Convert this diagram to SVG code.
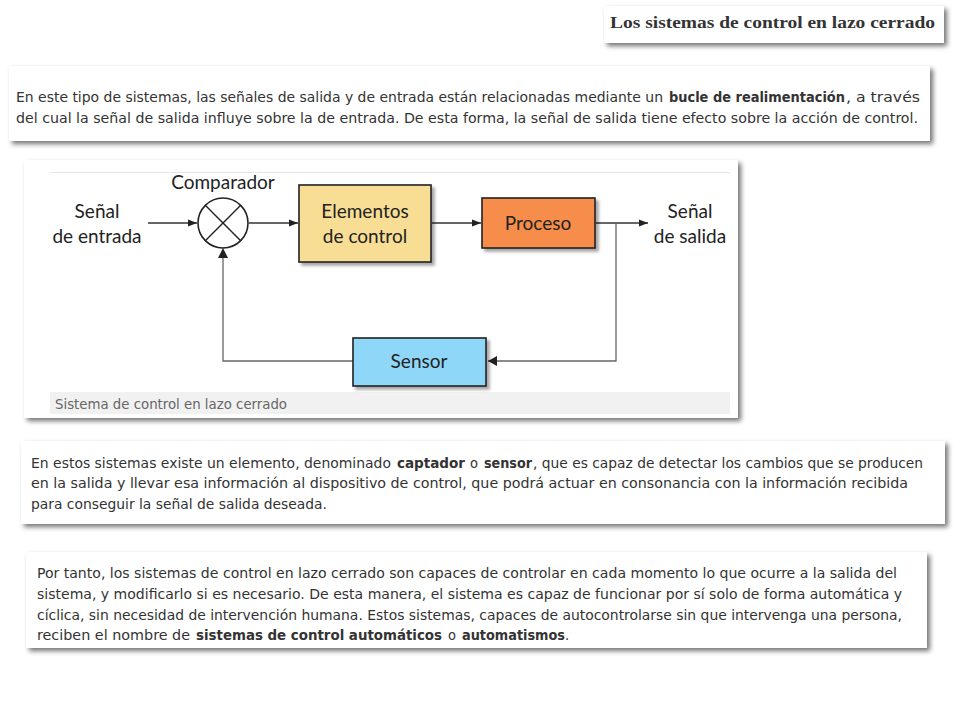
<svg xmlns="http://www.w3.org/2000/svg" width="960" height="720" viewBox="0 0 960 720">
<defs>
<filter id="sh" x="-5%" y="-20%" width="112%" height="150%">
<feDropShadow dx="3" dy="3" stdDeviation="2.5" flood-color="#000" flood-opacity="0.55"/>
</filter>
<filter id="bs" x="-10%" y="-10%" width="130%" height="130%">
<feDropShadow dx="3" dy="3" stdDeviation="1.5" flood-color="#000" flood-opacity="0.35"/>
</filter>
<marker id="ah" viewBox="0 0 10 10" refX="10" refY="5" markerWidth="9" markerHeight="9" markerUnits="userSpaceOnUse" orient="auto">
<path d="M0,1 L10,5 L0,9 Z" fill="#222"/>
</marker>
</defs>
<style>
.card{fill:#fff;filter:url(#sh)}
.p{font-family:"DejaVu Sans Condensed","DejaVu Sans","Liberation Sans",sans-serif;font-size:14.5px;fill:#333}
.b{font-weight:bold}
.d{font-family:Lato,"Open Sans",sans-serif;font-size:19px;fill:#222;text-anchor:middle}
.ln{fill:none;stroke:#333;stroke-width:1.6}
.fb{fill:none;stroke:#666;stroke-width:1.3}
.box{stroke:#222;stroke-width:1.6;filter:url(#bs)}
</style>
<rect width="960" height="720" fill="#fff"/>

<g id="title">
<rect class="card" x="604" y="6" width="340" height="37"/>
<text x="610" y="28" font-family="'Liberation Serif','DejaVu Serif',serif" font-weight="bold" font-size="16.5" fill="#333" textLength="325" lengthAdjust="spacingAndGlyphs">Los sistemas de control en lazo cerrado</text>
</g>

<g id="para1">
<rect class="card" x="9" y="66" width="921" height="75"/>
<text class="p" x="16" y="102" textLength="647" lengthAdjust="spacingAndGlyphs">En este tipo de sistemas, las señales de salida y de entrada están relacionadas mediante un</text>
<text class="p b" x="669" y="102" textLength="176" lengthAdjust="spacingAndGlyphs">bucle de realimentación</text>
<text class="p" x="846" y="102" textLength="74" lengthAdjust="spacingAndGlyphs">, a través</text>
<text class="p" x="16" y="123" textLength="902" lengthAdjust="spacingAndGlyphs">del cual la señal de salida influye sobre la de entrada. De esta forma, la señal de salida tiene efecto sobre la acción de control.</text>
</g>

<g id="figure">
<rect class="card" x="24" y="160" width="714" height="258"/>
<line x1="50" y1="172.5" x2="730" y2="172.5" stroke="#e6e6e6" stroke-width="1"/>
<rect x="50" y="392" width="680" height="22" fill="#f1f1f1"/>
<text x="55" y="409" font-family="'DejaVu Sans Condensed','Liberation Sans Narrow',sans-serif" font-size="13.5" fill="#666" textLength="232" lengthAdjust="spacingAndGlyphs">Sistema de control en lazo cerrado</text>
</g>

<g id="connectors">
<line class="ln" x1="148" y1="223" x2="197" y2="223" marker-end="url(#ah)"/>
<line class="ln" x1="249" y1="223" x2="298" y2="223" marker-end="url(#ah)"/>
<line class="ln" x1="432" y1="223" x2="481" y2="223" marker-end="url(#ah)"/>
<line class="ln" x1="596" y1="223" x2="648" y2="223" marker-end="url(#ah)"/>
<polyline class="fb" points="616,223 616,361 488,361"/>
<path d="M497,356 L488,361 L497,366 Z" fill="#222"/>
<polyline class="fb" points="353,361 223,361 223,257"/>
<path d="M218,258 L223,248 L228,258 Z" fill="#222"/>
</g>

<g id="input">
<text class="d" x="97" y="218">Señal</text>
<text class="d" x="97" y="243">de entrada</text>
</g>

<g id="comparador">
<text class="d" x="223" y="189">Comparador</text>
<circle cx="223" cy="223" r="25" fill="#fff" stroke="#222" stroke-width="1.6"/>
<line x1="205.3" y1="205.3" x2="240.7" y2="240.7" stroke="#222" stroke-width="1.4"/>
<line x1="240.7" y1="205.3" x2="205.3" y2="240.7" stroke="#222" stroke-width="1.4"/>
</g>

<g id="elementos">
<rect class="box" x="299" y="185" width="132" height="77" fill="#f8de94"/>
<text class="d" x="365" y="218">Elementos</text>
<text class="d" x="365" y="243">de control</text>
</g>

<g id="proceso">
<rect class="box" x="482" y="198" width="113" height="50" fill="#f68d4c"/>
<text class="d" x="538" y="230">Proceso</text>
</g>

<g id="output">
<text class="d" x="690" y="218">Señal</text>
<text class="d" x="690" y="243">de salida</text>
</g>

<g id="sensor">
<rect class="box" x="353" y="338" width="133" height="48" fill="#8ed7f8"/>
<text class="d" x="419" y="368">Sensor</text>
</g>

<g id="para2">
<rect class="card" x="21" y="441" width="924" height="83"/>
<text class="p" x="31" y="468" textLength="360" lengthAdjust="spacingAndGlyphs">En estos sistemas existe un elemento, denominado</text>
<text class="p b" x="397" y="468" textLength="68" lengthAdjust="spacingAndGlyphs">captador</text>
<text class="p" x="470" y="468">o</text>
<text class="p b" x="484" y="468" textLength="48" lengthAdjust="spacingAndGlyphs">sensor</text>
<text class="p" x="533" y="468" textLength="390" lengthAdjust="spacingAndGlyphs">, que es capaz de detectar los cambios que se producen</text>
<text class="p" x="31" y="488" textLength="877" lengthAdjust="spacingAndGlyphs">en la salida y llevar esa información al dispositivo de control, que podrá actuar en consonancia con la información recibida</text>
<text class="p" x="31" y="509" textLength="296" lengthAdjust="spacingAndGlyphs">para conseguir la señal de salida deseada.</text>
</g>

<g id="para3">
<rect class="card" x="26" y="552" width="901" height="96"/>
<text class="p" x="37" y="578" textLength="860" lengthAdjust="spacingAndGlyphs">Por tanto, los sistemas de control en lazo cerrado son capaces de controlar en cada momento lo que ocurre a la salida del</text>
<text class="p" x="37" y="599" textLength="865" lengthAdjust="spacingAndGlyphs">sistema, y modificarlo si es necesario. De esta manera, el sistema es capaz de funcionar por sí solo de forma automática y</text>
<text class="p" x="37" y="620" textLength="865" lengthAdjust="spacingAndGlyphs">cíclica, sin necesidad de intervención humana. Estos sistemas, capaces de autocontrolarse sin que intervenga una persona,</text>
<text class="p" x="37" y="640" textLength="153" lengthAdjust="spacingAndGlyphs">reciben el nombre de</text>
<text class="p b" x="196" y="640" textLength="246" lengthAdjust="spacingAndGlyphs">sistemas de control automáticos</text>
<text class="p" x="448" y="640">o</text>
<text class="p b" x="462" y="640" textLength="103" lengthAdjust="spacingAndGlyphs">automatismos</text>
<text class="p" x="565" y="640">.</text>
</g>
</svg>
